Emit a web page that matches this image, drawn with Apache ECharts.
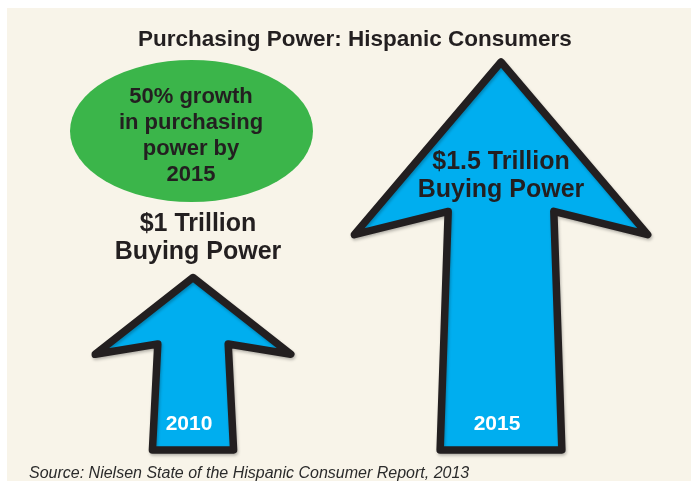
<!DOCTYPE html>
<html><head><meta charset="utf-8">
<script src="https://cdn.jsdelivr.net/npm/echarts@6/dist/echarts.min.js"></script>
<style>html,body{margin:0;padding:0;background:#fff}#c{width:691px;height:481px}</style>
</head><body><div id="c"></div>
<script>
// ---- data ----
const categories = ['2010', '2015'];
const buyingPowerTrillions = [1, 1.5];
const valueLabels = ['$1 Trillion\nBuying Power', '$1.5 Trillion\nBuying Power'];
const growthNote = '50% growth\nin purchasing\npower by\n2015';
const titleText = 'Purchasing Power: Hispanic Consumers';
const sourceText = 'Source: Nielsen State of the Hispanic Consumer Report, 2013';

// ---- styling ----
const Y_MIN = 0.6, Y_MAX = 1.5;
const FONT = "'Liberation Sans', Arial, Helvetica, sans-serif";
const INK = '#231f20';
const BLUE = '#00aeef';
const GREEN = '#3bb54a';
const CREAM = '#f8f4e9';

const chart = echarts.init(document.getElementById('c'), null, {renderer: 'canvas'});
const maxV = Math.max.apply(null, buyingPowerTrillions);

function renderArrow(params, api) {
  const v = api.value(1);
  const top = api.coord([api.value(0), v]);
  const base = api.coord([api.value(0), Y_MIN]);
  const band = api.size([1, 0])[0];
  const H = base[1] - top[1];
  const W = band * 0.635 * v;
  const cx = top[0];
  const yOuter = top[1] + H * 0.445;
  const yInner = top[1] + H * 0.385;
  const sT = W * 0.36 / 2, sB = W * 0.415 / 2;
  const pts = [
    [cx, top[1]], [cx + W / 2, yOuter], [cx + sT, yInner], [cx + sB, base[1]],
    [cx - sB, base[1]], [cx - sT, yInner], [cx - W / 2, yOuter]
  ];
  const inside = v === maxV;
  return {
    type: 'group',
    children: [
      {
        type: 'polygon',
        shape: {points: pts},
        style: {
          fill: BLUE, stroke: INK, lineWidth: 7.5, lineJoin: 'round',
          shadowColor: 'rgba(0,0,0,0.25)', shadowBlur: 3, shadowOffsetX: 1, shadowOffsetY: 2
        }
      },
      {
        type: 'text',
        style: {
          text: categories[params.dataIndex],
          x: cx - 4, y: base[1] - 26,
          align: 'center', verticalAlign: 'middle',
          fill: '#ffffff', fontSize: 21, fontWeight: 'bold', fontFamily: FONT
        }
      },
      {
        type: 'text',
        style: {
          text: valueLabels[params.dataIndex],
          x: inside ? cx : cx + 5,
          y: inside ? top[1] + H * 0.294 : top[1] - 39,
          align: 'center', verticalAlign: 'middle', lineHeight: 28,
          fill: INK, fontSize: 25, fontWeight: 'bold', fontFamily: FONT
        }
      }
    ]
  };
}

const option = {
  backgroundColor: '#ffffff',
  animation: false,
  title: {
    text: titleText, left: 138, top: 28, padding: 0,
    textStyle: {color: INK, fontSize: 22.5, fontWeight: 'bold', fontFamily: FONT}
  },
  grid: {left: 39, right: 36, top: 62, bottom: 31},
  xAxis: {type: 'category', data: categories, show: false},
  yAxis: {type: 'value', min: Y_MIN, max: Y_MAX, show: false},
  graphic: [
    {type: 'rect', z: -10, shape: {x: 7, y: 8, width: 684, height: 473}, style: {fill: CREAM}},
    {type: 'circle', x: 191.5, y: 131, scaleX: 121.5 / 71, scaleY: 1, shape: {cx: 0, cy: 0, r: 71}, style: {fill: GREEN}},
    {type: 'text', x: 191, y: 136, style: {
      text: growthNote, align: 'center', verticalAlign: 'middle', lineHeight: 26,
      fill: INK, fontSize: 22, fontWeight: 'bold', fontFamily: FONT}},
    {type: 'text', x: 29, y: 474, style: {
      text: sourceText, align: 'left', verticalAlign: 'middle',
      fill: '#2b2b2b', fontSize: 16, fontStyle: 'italic', fontFamily: FONT}}
  ],
  series: [{
    type: 'custom',
    renderItem: renderArrow,
    encode: {x: 0, y: 1},
    data: buyingPowerTrillions.map((v, i) => [i, v])
  }]
};
chart.setOption(option);
</script>
</body></html>
